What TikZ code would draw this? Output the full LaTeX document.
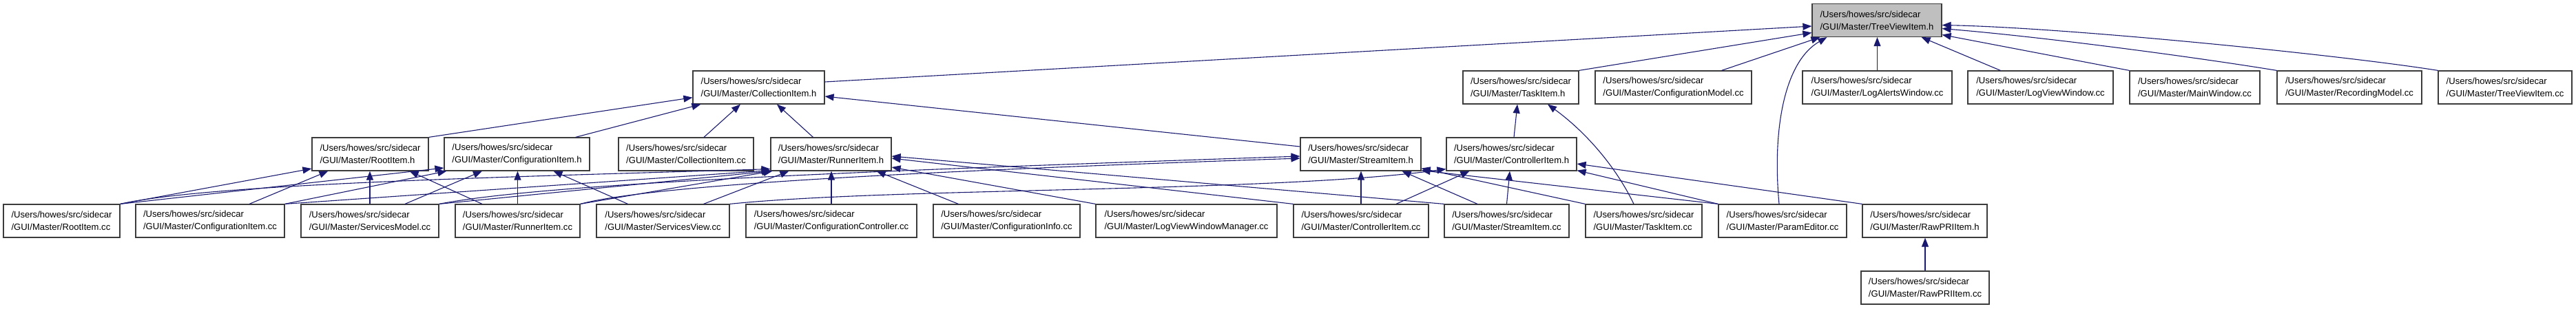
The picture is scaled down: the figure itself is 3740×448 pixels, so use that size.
\documentclass[tikz,border=0pt]{standalone}
\usepackage{fontspec}
\setmainfont{Liberation Sans}
\usetikzlibrary{arrows.meta,calc}
\definecolor{edgeblue}{RGB}{25,25,112}
\definecolor{tgray}{RGB}{191,191,191}
\definecolor{boxline}{RGB}{60,60,60}
\newcommand{\nodefont}{\fontsize{13.07pt}{17.7pt}\selectfont}
\newcommand{\fp}[1]{/Users/howes/src/sidecar\\/GUI/Master/#1}
\tikzset{
  box/.style={draw=boxline, line width=1.2pt, fill=white, minimum height=48pt,
    inner sep=0pt, align=left, font=\nodefont, text=black},
  edge/.style={draw=edgeblue, line width=1.1pt, -{Triangle[length=13pt,width=10pt]}}
}
\begin{document}
\begin{tikzpicture}[x=1pt,y=-1pt]
\useasboundingbox (0,0) rectangle (3740,448);
% row 0
\node[box, fill=tgray, minimum width=188pt] (T) at (2725,29.5) {\fp{TreeViewItem.h}};
% row 1
\node[box, minimum width=191pt] (C) at (1101.5,127) {\fp{CollectionItem.h}};
\node[box, minimum width=168pt] (TI) at (2208,127) {\fp{TaskItem.h}};
\node[box, minimum width=227pt] (CMcc) at (2429.5,127) {\fp{ConfigurationModel.cc}};
\node[box, minimum width=217pt] (LAW) at (2725.5,127) {\fp{LogAlertsWindow.cc}};
\node[box, minimum width=211pt] (LVW) at (2962.5,127) {\fp{LogViewWindow.cc}};
\node[box, minimum width=189pt] (MW) at (3186.5,127) {\fp{MainWindow.cc}};
\node[box, minimum width=210pt] (RM) at (3411,127) {\fp{RecordingModel.cc}};
\node[box, minimum width=194pt] (TVcc) at (3637,127) {\fp{TreeViewItem.cc}};
% row 2
\node[box, minimum width=169pt] (R) at (537.5,224) {\fp{RootItem.h}};
\node[box, minimum width=211pt] (CI) at (750.5,224) {\fp{ConfigurationItem.h}};
\node[box, minimum width=196pt] (Ccc) at (996,224) {\fp{CollectionItem.cc}};
\node[box, minimum width=175pt] (RI) at (1206.5,224) {\fp{RunnerItem.h}};
\node[box, minimum width=175pt] (SI) at (1975.5,224) {\fp{StreamItem.h}};
\node[box, minimum width=189pt] (CO) at (2194.5,224) {\fp{ControllerItem.h}};
% row 3
\node[box, minimum width=169pt] (Rcc) at (89.5,321) {\fp{RootItem.cc}};
\node[box, minimum width=216pt] (CIcc) at (305,321) {\fp{ConfigurationItem.cc}};
\node[box, minimum width=200pt] (SMcc) at (537,321) {\fp{ServicesModel.cc}};
\node[box, minimum width=181pt] (RIcc) at (751.5,321) {\fp{RunnerItem.cc}};
\node[box, minimum width=193pt] (SVcc) at (962.5,321) {\fp{ServicesView.cc}};
\node[box, minimum width=248pt] (CCcc) at (1207,321) {\fp{ConfigurationController.cc}};
\node[box, minimum width=213pt] (CInfo) at (1461.5,321) {\fp{ConfigurationInfo.cc}};
\node[box, minimum width=263pt] (LVWM) at (1722.5,321) {\fp{LogViewWindowManager.cc}};
\node[box, minimum width=196pt] (COcc) at (1976,321) {\fp{ControllerItem.cc}};
\node[box, minimum width=181pt] (SIcc) at (2187.5,321) {\fp{StreamItem.cc}};
\node[box, minimum width=169pt] (TIcc) at (2386.5,321) {\fp{TaskItem.cc}};
\node[box, minimum width=186pt] (PE) at (2588,321) {\fp{ParamEditor.cc}};
\node[box, minimum width=181pt] (RP) at (2794.5,321) {\fp{RawPRIItem.h}};
% row 4
\node[box, minimum width=186pt] (RPcc) at (2795,418) {\fp{RawPRIItem.cc}};

% edges into TreeViewItem.h
\draw[edge] ($(C.east)+(0,-8)$) -- ($(T.west)+(0,8.5)$);
\draw[edge] (TI.north east) -- ($(T.west)+(0,18)$);
\draw[edge] ($(CMcc.north)+(70,0)$) -- ($(T.south west)+(12,0)$);
\draw[edge] ($(PE.north)+(-5,0)$) .. controls (2573,190) and (2590,90) .. ($(T.south west)+(22,0)$);
\draw[edge] (LAW.north) -- (LAW.north |- T.south);
\draw[edge] ($(LVW.north west)+(48,0)$) -- ($(T.south east)+(-30,0)$);
\draw[edge] (MW.north west) -- ($(T.east)+(0,21)$);
\draw[edge] (RM.north west) .. controls (3200,85) and (2980,55) .. ($(T.east)+(0,12)$);
\draw[edge] (TVcc.north west) .. controls (3400,80) and (3000,40) .. ($(T.east)+(0,7)$);
% edges into CollectionItem.h
\draw[edge] (R.north east) -- ($(C.west)+(0,14.7)$);
\draw[edge] ($(CI.north east)+(-21,0)$) -- ($(C.south west)+(12,0)$);
\draw[edge] ($(Ccc.north)+(26,0)$) -- ($(C.south)+(-26.5,0)$);
\draw[edge] ($(RI.north)+(-26,0)$) -- ($(C.south)+(26.5,0)$);
\draw[edge] ($(SI.west)+(0,-11)$) -- ($(C.east)+(0,13)$);
% edges into TaskItem.h
\draw[edge] ($(CO.north)+(3.5,0)$) -- ($(TI.south)+(-5,0)$);
\draw[edge] ($(TIcc.north)+(-14.5,0)$) .. controls (2345,240) and (2300,190) .. ($(TI.south)+(39,0)$);
% edges into RootItem.h
\draw[edge] (Rcc.north east) -- ($(R.west)+(0,21)$);
\draw[edge] ($(CIcc.north)+(57,0)$) -- ($(R.south west)+(24,0)$);
\draw[edge] (SMcc.north) -- (SMcc.north |- R.south);
\draw[edge] ($(RIcc.north)+(-51.5,0)$) -- ($(R.south east)+(-28,0)$);
% edges into ConfigurationItem.h
\draw[edge] (Rcc.north east) -- ($(CI.west)+(0,20)$);
\draw[edge] (CIcc.north east) -- ($(CI.south west)+(4,0)$);
\draw[edge] ($(SMcc.north)+(51,0)$) -- ($(CI.south)+(-50.5,0)$);
\draw[edge] (RIcc.north) -- (RIcc.north |- CI.south);
\draw[edge] ($(SVcc.north)+(-51,0)$) -- ($(CI.south)+(53,0)$);
% edges into RunnerItem.h
\draw[edge] (Rcc.north east) .. controls (300,268) and (700,258) .. ($(RI.south west)+(0,-3)$);
\draw[edge] (CIcc.north east) -- ($(RI.south west)+(0,-1)$);
\draw[edge] (SMcc.north east) -- ($(RI.south west)+(1,0)$);
\draw[edge] (RIcc.north east) -- ($(RI.south west)+(3,0)$);
\draw[edge] ($(SVcc.north)+(59,0)$) -- ($(RI.south west)+(27,0)$);
\draw[edge] (CCcc.north) -- (CCcc.north |- RI.south);
\draw[edge] ($(CInfo.north west)+(37,0)$) -- ($(RI.south east)+(-22,0)$);
\draw[edge] (LVWM.north west) -- ($(RI.east)+(0,19)$);
\draw[edge] (COcc.north west) -- ($(RI.east)+(0,6)$);
\draw[edge] (SIcc.north west) -- ($(RI.east)+(0,3)$);
% edges into StreamItem.h
\draw[edge] (SMcc.north east) .. controls (800,265) and (1300,247) .. ($(SI.west)+(0,3)$);
\draw[edge] (RIcc.north east) .. controls (950,268) and (1350,248) .. ($(SI.west)+(0,6)$);
\draw[edge] (COcc.north) -- (COcc.north |- SI.south);
\draw[edge] ($(SIcc.north)+(-42.5,0)$) -- ($(SI.south)+(60,0)$);
\draw[edge] (TIcc.north west) -- ($(SI.south east)+(0,-4)$);
\draw[edge] (PE.north west) -- ($(SI.south east)+(0,-1)$);
% edges into ControllerItem.h
\draw[edge] (SVcc.north east) .. controls (1300,272) and (1850,280) .. ($(CO.south west)+(0,-3)$);
\draw[edge] ($(COcc.north)+(51,0)$) -- ($(CO.south)+(-61,0)$);
\draw[edge] (SIcc.north) -- ($(CO.south)+(-2.5,0)$);
\draw[edge] (RP.north west) -- ($(CO.east)+(0,14)$);
\draw[edge] (PE.north west) -- ($(CO.south east)+(0,-1)$);
% edge into RawPRIItem.h
\draw[edge] (RPcc.north) -- (RPcc.north |- RP.south);
\end{tikzpicture}
\end{document}
